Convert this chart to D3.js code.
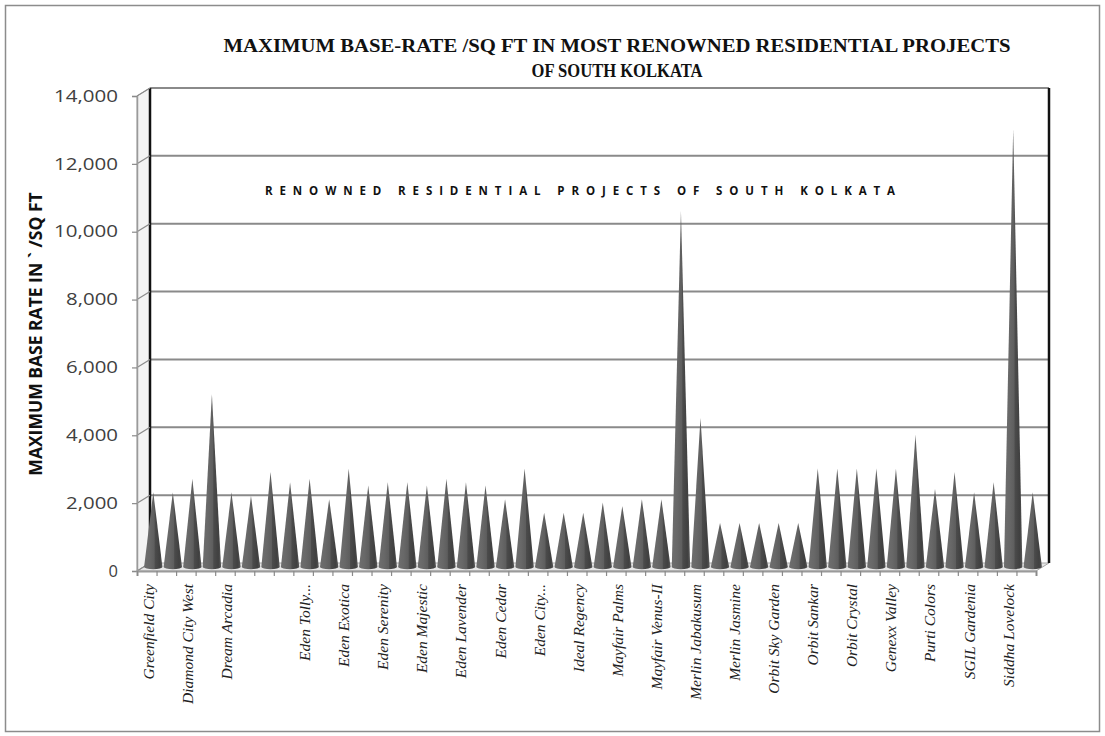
<!DOCTYPE html>
<html>
<head>
<meta charset="utf-8">
<script src="https://cdn.jsdelivr.net/npm/d3@7"></script>
<style>
  html, body { margin: 0; padding: 0; background: #fff; }
  svg { display: block; }
</style>
</head>
<body>
<svg id="chart" width="1105" height="736"></svg>
<script>
// Project labels along the category axis (every second project is shown, blanks are unlabeled slots)
const projectLabels = [
  "Greenfield City", "", "Diamond City West", "", "Dream Arcadia", "", "", "",
  "Eden Tolly...", "", "Eden Exotica", "", "Eden Serenity", "", "Eden Majestic", "",
  "Eden Lavender", "", "Eden Cedar", "", "Eden City...", "", "Ideal Regency", "",
  "Mayfair Palms", "", "Mayfair Venus-II", "", "Merlin Jabakusum", "", "Merlin Jasmine", "",
  "Orbit Sky Garden", "", "Orbit Sankar", "", "Orbit Crystal", "", "Genexx Valley", "",
  "Purti Colors", "", "SGIL Gardenia", "", "Siddha Lovelock", ""
];

// Maximum base rate per sq ft for each project
const baseRates = [
  2200, 2200, 2600, 5100, 2200, 2100, 2800, 2500,
  2600, 2000, 2900, 2400, 2500, 2500, 2400, 2600,
  2500, 2400, 2000, 2900, 1600, 1600, 1600, 1900,
  1800, 2000, 2000, 10500, 4400, 1300, 1300, 1300,
  1300, 1300, 2900, 2900, 2900, 2900, 2900, 3900,
  2300, 2800, 2200, 2500, 12900, 2200
];

const yTicks = [0, 2000, 4000, 6000, 8000, 10000, 12000, 14000];

const titleLines = [
  "MAXIMUM BASE-RATE /SQ FT IN MOST RENOWNED RESIDENTIAL PROJECTS",
  "OF SOUTH KOLKATA"
];
const innerTitle = "RENOWNED RESIDENTIAL PROJECTS OF SOUTH KOLKATA";
const yAxisTitle = "MAXIMUM BASE RATE IN ` /SQ FT";

const svg = d3.select("#chart");

// 3D box geometry: front floor edge and depth offset toward the back wall
const frontLeft = 137, frontRight = 1036;
const depthX = 13, depthY = -8;

const yFront = d3.scaleLinear().domain([0, 14000]).range([571, 96]);
const yBack = v => yFront(v) + depthY;
const yMid = v => yFront(v) + depthY / 2;

const xEdge = d3.scaleLinear().domain([0, projectLabels.length]).range([frontLeft, frontRight]);
const xBand = d3.scaleBand().domain(d3.range(projectLabels.length)).range([frontLeft, frontRight]).padding(0);

// Outer frame
svg.append("rect")
  .attr("x", 5.5).attr("y", 5.5).attr("width", 1094).attr("height", 726)
  .attr("fill", "#fff").attr("stroke", "#8c8c8c").attr("stroke-width", 1.5);

// Left side wall
svg.append("path")
  .attr("d", `M${frontLeft},${yFront(0)} L${frontLeft},${yFront(14000)} L${frontLeft + depthX},${yBack(14000)} L${frontLeft + depthX},${yBack(0)} Z`)
  .attr("fill", "#f3f3f3").attr("stroke", "#a0a0a0").attr("stroke-width", 1);

// Floor
svg.append("path")
  .attr("d", `M${frontLeft},${yFront(0)} L${frontRight},${yFront(0)} L${frontRight + depthX},${yBack(0)} L${frontLeft + depthX},${yBack(0)} Z`)
  .attr("fill", "#e6e6e6").attr("stroke", "#a8a8a8").attr("stroke-width", 1);

// Back wall gridlines
svg.append("g").selectAll("line")
  .data(yTicks.filter(v => v > 0))
  .join("line")
  .attr("x1", frontLeft + depthX).attr("x2", frontRight + depthX)
  .attr("y1", d => yBack(d)).attr("y2", d => yBack(d))
  .attr("stroke", "#8a8a8a").attr("stroke-width", 2);

// Back wall side edges
svg.append("line")
  .attr("x1", frontLeft + depthX).attr("x2", frontLeft + depthX)
  .attr("y1", yBack(14000)).attr("y2", yBack(0))
  .attr("stroke", "#111").attr("stroke-width", 2.5);
svg.append("line")
  .attr("x1", frontRight + depthX).attr("x2", frontRight + depthX)
  .attr("y1", yBack(14000)).attr("y2", yBack(0))
  .attr("stroke", "#111").attr("stroke-width", 2.5);

// Connectors from front ticks to back gridlines
svg.append("g").selectAll("line")
  .data(yTicks)
  .join("line")
  .attr("x1", frontLeft).attr("y1", d => yFront(d))
  .attr("x2", frontLeft + depthX).attr("y2", d => yBack(d))
  .attr("stroke", "#8a8a8a").attr("stroke-width", 1.2);

// Cone shading
const defs = svg.append("defs");
const grad = defs.append("linearGradient").attr("id", "coneShade")
  .attr("x1", "0%").attr("x2", "100%").attr("y1", "0%").attr("y2", "0%");
[["0%", "#6e6e6e"], ["30%", "#686868"], ["55%", "#5e5e5e"], ["60%", "#4b4b4b"],
 ["85%", "#404040"], ["100%", "#585858"]]
  .forEach(([o, c]) => grad.append("stop").attr("offset", o).attr("stop-color", c));

// Cones
const coneW = xBand.bandwidth() * 0.94;
const cones = svg.append("g").selectAll("g")
  .data(baseRates)
  .join("g");
cones.append("path")
  .attr("d", (d, i) => {
    const cx = xBand(i) + xBand.bandwidth() / 2 + depthX / 2;
    const yb = yMid(0);
    const yt = yMid(d);
    const r = coneW / 2;
    return `M${cx - r},${yb} L${cx},${yt} L${cx + r},${yb} A${r},2.2 0 0 1 ${cx - r},${yb} Z`;
  })
  .attr("fill", "url(#coneShade)");

// Front y-axis
const yAxis = d3.axisLeft(yFront)
  .tickValues(yTicks)
  .tickFormat(d3.format(","))
  .tickSize(5)
  .tickPadding(14);
const yAxisG = svg.append("g").attr("transform", `translate(${frontLeft},0)`).call(yAxis);
yAxisG.select(".domain").attr("stroke", "#9a9a9a").attr("stroke-width", 1.5);
yAxisG.selectAll(".tick line").attr("stroke", "#8a8a8a").attr("stroke-width", 1.2);
yAxisG.selectAll(".tick text")
  .attr("font-family", "'Open Sans', sans-serif")
  .attr("font-size", 16.5)
  .attr("fill", "#404040")
  .attr("textLength", function () { return this.textContent.length > 1 ? (this.textContent.length === 5 ? 52 : 64) : null; })
  .attr("lengthAdjust", "spacingAndGlyphs");

// Category boundary ticks on the front floor edge
const xAxis = d3.axisBottom(xEdge)
  .tickValues(d3.range(projectLabels.length + 1))
  .tickFormat("")
  .tickSize(5);
const xAxisG = svg.append("g").attr("transform", `translate(0,${yFront(0)})`).call(xAxis);
xAxisG.select(".domain").attr("stroke", "#9a9a9a").attr("stroke-width", 2);
xAxisG.selectAll(".tick line").attr("stroke", "#8a8a8a").attr("stroke-width", 1.2);

// Rotated category labels
svg.append("g").selectAll("text")
  .data(projectLabels.map((t, i) => ({ t, i })).filter(d => d.t !== ""))
  .join("text")
  .attr("transform", d => `translate(${xBand(d.i) + xBand.bandwidth() / 2 + 2},584) rotate(-90)`)
  .attr("dy", "0.32em")
  .attr("text-anchor", "end")
  .attr("font-family", "'Liberation Serif', serif")
  .attr("font-style", "italic")
  .attr("font-size", 15.5)
  .attr("fill", "#222")
  .text(d => d.t);

// Chart title
svg.append("g").selectAll("text")
  .data(titleLines)
  .join("text")
  .attr("x", 617)
  .attr("y", (d, i) => 52 + i * 25)
  .attr("text-anchor", "middle")
  .attr("font-family", "'Liberation Serif', serif")
  .attr("font-weight", "bold")
  .attr("font-size", 19)
  .attr("fill", "#111")
  .attr("textLength", (d, i) => i === 0 ? 787 : 171)
  .attr("lengthAdjust", "spacingAndGlyphs")
  .text(d => d);

// Caption inside the plot
svg.append("text")
  .attr("x", 580).attr("y", 195)
  .attr("text-anchor", "middle")
  .attr("font-family", "'Open Sans', sans-serif")
  .attr("font-weight", "bold")
  .attr("font-size", 11.5)
  .attr("fill", "#111")
  .attr("textLength", 630)
  .attr("lengthAdjust", "spacing")
  .text(innerTitle);

// Y-axis title
svg.append("text")
  .attr("transform", "translate(36,334) rotate(-90)")
  .attr("dy", "0.35em")
  .attr("text-anchor", "middle")
  .attr("font-family", "'Open Sans', sans-serif")
  .attr("font-weight", "bold")
  .attr("font-size", 17.5)
  .attr("fill", "#111")
  .text(yAxisTitle);
</script>
</body>
</html>
